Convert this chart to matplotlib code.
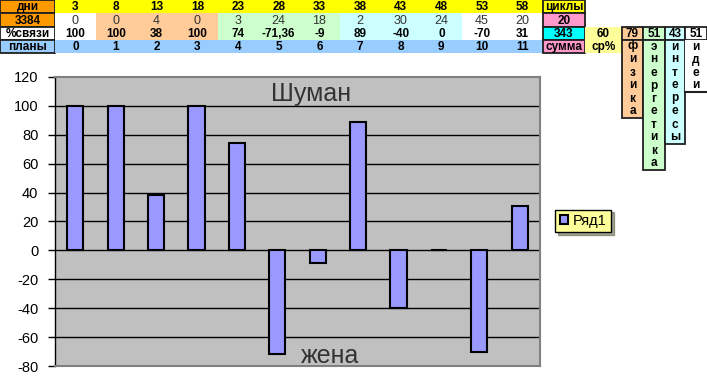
import matplotlib
matplotlib.use("Agg")
import matplotlib.pyplot as plt
from matplotlib.patches import Rectangle

plt.rcParams["font.family"] = ["Liberation Sans", "DejaVu Sans"]
plt.rcParams["axes.unicode_minus"] = False

# --------------------------------------------------
# DATA
# --------------------------------------------------

days = [3, 8, 13, 18, 23, 28, 33, 38, 43, 48, 53, 58]
row_3384 = [0, 0, 4, 0, 3, 24, 18, 2, 30, 24, 45, 20]
svyazi = [100, 100, 38, 100, 74, -71.36, -9, 89, -40, 0, -70, 31]
plans = [0, 1, 2, 3, 4, 5, 6, 7, 8, 9, 10, 11]

cycles = 20
total = 343
avg_pct = 60
topics = ["физика", "энергетика", "интересы", "идеи"]
topic_vals = [79, 51, 43, 51]

series_name = "Ряд1"
title_top = "Шуман"
title_bottom = "жена"

# colours
YELLOW = "#FFFF00"
ORANGE = "#FF9900"
PEACH = "#FFCC99"
LGREEN = "#CCFFCC"
LCYAN = "#CCFFFF"
LBLUE = "#99CCFF"
PINK = "#FF99CC"
CYAN = "#00FFFF"
LYELLOW = "#FFFF99"
BAR = "#9999FF"

W, H = 707, 390
fig = plt.figure(figsize=(W / 100, H / 100), dpi=100)

# --------------------------------------------------
# SPREADSHEET PART (pixel coordinates)
# --------------------------------------------------

tab = fig.add_axes([0, 0, 1, 1])
tab.set_xlim(0, W)
tab.set_ylim(H, 0)
tab.axis("off")

FS = 8.5


def cell(x0, x1, y0, y1, fc, text="", bold=True, color="black", border=False, size=FS):
    tab.add_patch(Rectangle((x0, y0), x1 - x0, y1 - y0, facecolor=fc,
                            edgecolor="#202020" if border else "none",
                            linewidth=1.3 if border else 0))
    if text != "":
        tab.text((x0 + x1) / 2, (y0 + y1) / 2 + 0.5, str(text), ha="center", va="center",
                 fontsize=size, fontweight="bold" if bold else "normal", color=color)


rows = [0, 13, 27, 40, 53]
lab_w = 55
data_end = 543
cw = (data_end - lab_w) / len(days)
group_cols = [None, PEACH, PEACH, PEACH, LGREEN, LGREEN, LGREEN, LCYAN, LCYAN, LCYAN, None, None]

cell(0, lab_w, rows[0], rows[1], ORANGE, "дни", border=True)
cell(0, lab_w, rows[1], rows[2], ORANGE, "3384", border=True)
cell(0, lab_w, rows[2], rows[3], "white", "%связи", border=True)
cell(0, lab_w, rows[3], rows[4], LBLUE, "планы", border=True)

for i in range(len(days)):
    x0 = lab_w + i * cw
    x1 = x0 + cw
    gc = group_cols[i] or "white"
    cell(x0, x1, rows[0], rows[1], YELLOW, days[i])
    cell(x0, x1, rows[1], rows[2], gc, row_3384[i], bold=False, color="#333333", size=9)
    cell(x0, x1, rows[2], rows[3], gc, f"{svyazi[i]:g}".replace(".", ","))
    cell(x0, x1, rows[3], rows[4], LBLUE, plans[i])

cx = [543, 585, 622, 643, 665, 685, 707]
cell(cx[0], cx[1], rows[0], rows[1], YELLOW, "циклы", border=True)
cell(cx[0], cx[1], rows[1], rows[2], PINK, cycles, border=True)
cell(cx[0], cx[1], rows[2], rows[3], CYAN, total, border=True)
cell(cx[0], cx[1], rows[3], rows[4], PINK, "сумма", border=True)
cell(cx[1], cx[2], rows[2], rows[3], LYELLOW, avg_pct)
cell(cx[1], cx[2], rows[3], rows[4], LYELLOW, "ср%")

topic_cols = [PEACH, LGREEN, LCYAN, "white"]
step = 13
for k, (word, val) in enumerate(zip(topics, topic_vals)):
    x0, x1 = cx[2 + k], cx[3 + k]
    cell(x0, x1, rows[2], rows[3], topic_cols[k], val, border=True)
    y_end = rows[3] + step * len(word)
    tab.add_patch(Rectangle((x0, rows[3]), x1 - x0, y_end - rows[3],
                            facecolor=topic_cols[k],
                            edgecolor="#202020" if k < 3 else "none", linewidth=1.3))
    if k == 3:
        tab.plot([x0, x1], [y_end, y_end], color="#202020", lw=1.5)
    for j, ch in enumerate(word):
        tab.text((x0 + x1) / 2, rows[3] + step * j + step / 2, ch, ha="center",
                 va="center", fontsize=FS, fontweight="bold")

# --------------------------------------------------
# CHART
# --------------------------------------------------

px0, px1, py_top, py_bot = 55, 540, 77, 366
ax = fig.add_axes([px0 / W, (H - py_bot) / H, (px1 - px0) / W, (py_bot - py_top) / H])
ax.set_facecolor("#C0C0C0")
ax.bar(range(len(svyazi)), svyazi, width=0.4, color=BAR, edgecolor="black",
       linewidth=1.5, zorder=3, label=series_name)
ax.set_xlim(-0.5, len(svyazi) - 0.5)
ax.set_ylim(-80, 120)
ax.set_yticks(range(-80, 121, 20))
ax.set_xticks([])
for v in range(-60, 101, 20):
    ax.axhline(v, color="black", lw=1, zorder=2)
for s in ["top", "right", "bottom"]:
    ax.spines[s].set_color("#808080")
    ax.spines[s].set_linewidth(1.5)
ax.spines["left"].set_color("black")
ax.spines["left"].set_linewidth(1)
ax.tick_params(axis="y", length=5, width=1, pad=7, labelsize=10.5)

ax.text(0.528, 0.94, title_top, transform=ax.transAxes, ha="center", va="center",
        fontsize=18, color="#333333", zorder=4)
ax.text(0.567, 0.035, title_bottom, transform=ax.transAxes, ha="center", va="center",
        fontsize=18, color="#333333", zorder=4)

leg = fig.legend(loc="center", bbox_to_anchor=(583 / W, (H - 221) / H), frameon=True,
                 fancybox=False, shadow=True, fontsize=10.5, handlelength=0.6,
                 handleheight=0.6, handletextpad=0.3, borderpad=0.3)
leg.get_frame().set_facecolor(LYELLOW)
leg.get_frame().set_edgecolor("black")
leg.get_frame().set_alpha(1)

fig.savefig("out.png", dpi=100)
